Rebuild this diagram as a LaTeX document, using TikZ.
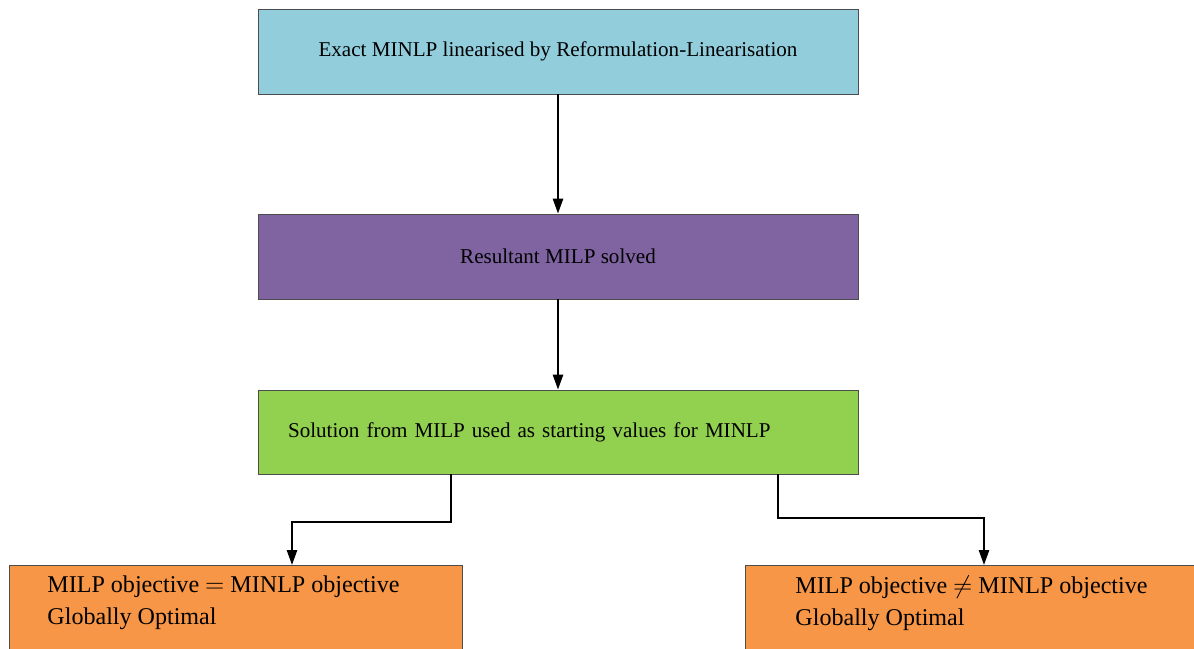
\documentclass[tikz,border=0pt]{standalone}
\usepackage{fontspec}
\setmainfont{Liberation Serif}
\usetikzlibrary{arrows.meta,positioning,calc}

\definecolor{stepblue}{HTML}{92CDDC}
\definecolor{steppurple}{HTML}{8064A2}
\definecolor{stepgreen}{HTML}{92D050}
\definecolor{steporange}{HTML}{F79646}

% result text, set from the top of its box
\newcommand{\restext}[2]{\parbox[c][1.6cm][t]{#1}{\raggedright #2}}

\begin{document}
\begin{tikzpicture}[
  x=0.02cm, y=-0.02cm,
  >={Triangle[width=5.8pt,length=8.5pt]},
  font=\fontsize{12}{18}\selectfont,
  stepbox/.style={draw=black!70, line width=0.5pt,
                  minimum width=12cm, minimum height=1.7cm,
                  inner sep=0pt, align=center},
  resbox/.style={draw=black!70, line width=0.5pt, fill=steporange,
                 font=\fontsize{13.7}{18.1}\selectfont,
                 inner ysep=5.8pt, anchor=north west},
  arr/.style={->, line width=1.1pt},
]
  \useasboundingbox (0,0) rectangle (1194,649);

  \node[stepbox, fill=stepblue] (rlt) at (558,51.5)
    {Exact MINLP linearised by Reformulation-Linearisation};
  \node[stepbox, fill=steppurple] (milp) at (558,256.5) {Resultant MILP solved};
  \node[stepbox, fill=stepgreen, minimum height=1.68cm, align=left,
        text width=10.8cm, inner xsep=0.6cm] (start) at (558,432)
    {Solution from MILP used as starting values for MINLP};

  \node[resbox, inner xsep=0.76cm] (lres) at (9,565)
    {\restext{7.54cm}{MILP objective $=$ MINLP objective\\Globally Optimal}};
  \node[resbox, inner xsep=1cm] (rres) at (745,565)
    {\restext{7.6cm}{MILP objective $\neq$ MINLP objective\\Globally Optimal}};

  \draw[arr] (rlt) -- (milp);
  \draw[arr] (milp) -- (start);
  \draw[arr] ($(start.south)+(-107,0)$) -- ++(0,48) -| ($(lres.north west)+(283,0)$);
  \draw[arr] ($(start.south)+(220,0)$) -- ++(0,44) -| ($(rres.north west)+(239,0)$);
\end{tikzpicture}
\end{document}
